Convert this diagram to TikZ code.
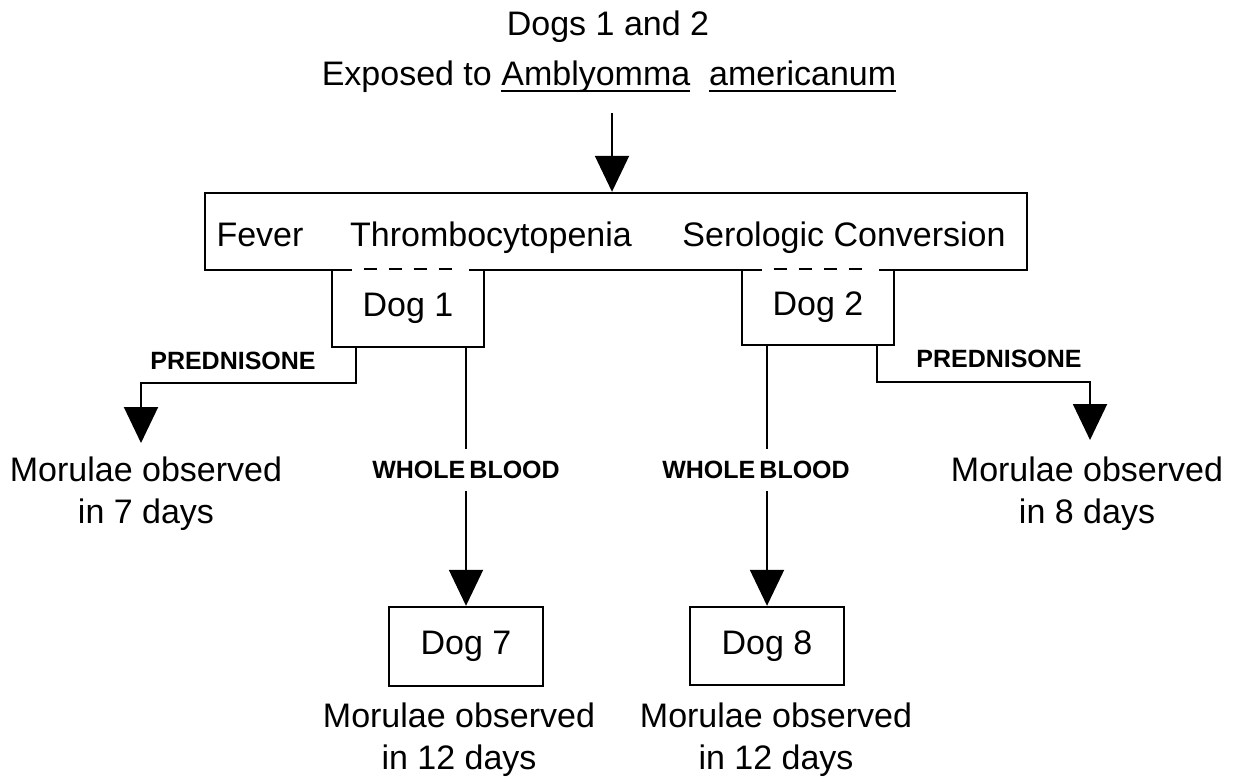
\documentclass[tikz,border=0pt]{standalone}
\usepackage{fontspec}
\setmainfont{Liberation Sans}
\usetikzlibrary{arrows.meta}
\newcommand\myul[1]{\setbox0\hbox{#1}\rlap{\rule[-3pt]{\wd0}{0.8pt}}\box0}
\begin{document}
\begin{tikzpicture}[x=0.5pt,y=-0.5pt,
  txt/.style={font=\fontsize{17}{21}\selectfont, inner sep=0pt, align=center},
  lbl/.style={font=\fontsize{12.5}{15}\selectfont\bfseries, inner xsep=0pt, inner ysep=6pt},
  box/.style={draw, line width=1.2pt, inner sep=0pt, font=\fontsize{17}{21}\selectfont},
  conn/.style={line width=1pt},
  arr/.style={line width=1pt, -{Triangle[width=17pt,length=18pt]}},
  dashseg/.style={line width=1.3pt, dash pattern=on 6.5pt off 6pt},
  gapseg/.style={white, line width=2.2pt}
]
\useasboundingbox (0,0) rectangle (1234,781);
% title
\node[txt, anchor=base] (t1) at (608,36) {Dogs 1 and 2};
\node[txt, anchor=base] (t2) at (609,86) {Exposed to \myul{Amblyomma}\ \ \myul{americanum}};
% main box
\node[box, minimum width=411pt, minimum height=38.5pt] (main) at (616,231.5) {};
\node[txt, anchor=base] (fever) at (260,246) {Fever};
\node[txt, anchor=base] (thr) at (491,246) {Thrombocytopenia};
\node[txt, anchor=base] (sero) at (844,246) {Serologic Conversion};
\coordinate (a0) at (612,113);
\draw[arr] (a0) -- (a0 |- main.north);
% dog boxes
\node[box, minimum width=76pt, minimum height=38.5pt] (dog1) at (408,308.5) {Dog 1};
\node[box, minimum width=76pt, minimum height=37.5pt] (dog2) at (818,307.5) {Dog 2};
\draw[gapseg] ([xshift=10.5pt]dog1.north west) -- ([xshift=-8pt]dog1.north east);
\draw[gapseg] ([xshift=10.5pt]dog2.north west) -- ([xshift=-8pt]dog2.north east);
\draw[dashseg] ([xshift=16.5pt]dog1.north west) -- ([xshift=-14.5pt]dog1.north east);
\draw[dashseg] ([xshift=16.5pt]dog2.north west) -- ([xshift=-14.5pt]dog2.north east);
% left prednisone
\node[lbl] (prL) at (233,361) {PREDNISONE};
\node[txt] (morL) at (146,494) {Morulae observed\\in 7 days};
\coordinate (pL) at (356,383);
\coordinate (tipL) at (141,443);
\draw[arr] (pL |- dog1.south) -- (pL) -| (tipL);
% right prednisone
\node[lbl] (prR) at (999,359) {PREDNISONE};
\node[txt] (morR) at (1087,494) {Morulae observed\\in 8 days};
\coordinate (pR) at (877,382);
\coordinate (tipR) at (1090,440);
\draw[arr] (pR |- dog2.south) -- (pR) -| (tipR);
% bottom boxes
\node[box, minimum width=77pt, minimum height=39.5pt] (dog7) at (466,646.5) {Dog 7};
\node[box, minimum width=77pt, minimum height=39pt] (dog8) at (767,646) {Dog 8};
% whole blood
\node[lbl] (wbL) at (466,470) {WHOLE\,BLOOD};
\node[lbl] (wbR) at (756,470) {WHOLE\,BLOOD};
\draw[conn] (dog1.south -| dog7.north) -- (wbL.north -| dog7.north);
\draw[arr] (wbL.south -| dog7.north) -- (dog7.north);
\draw[conn] (dog2.south -| dog8.north) -- (wbR.north -| dog8.north);
\draw[arr] (wbR.south -| dog8.north) -- (dog8.north);
% bottom texts
\node[txt] (mor7) at (459,740) {Morulae observed\\in 12 days};
\node[txt] (mor8) at (776,740) {Morulae observed\\in 12 days};
\end{tikzpicture}
\end{document}
